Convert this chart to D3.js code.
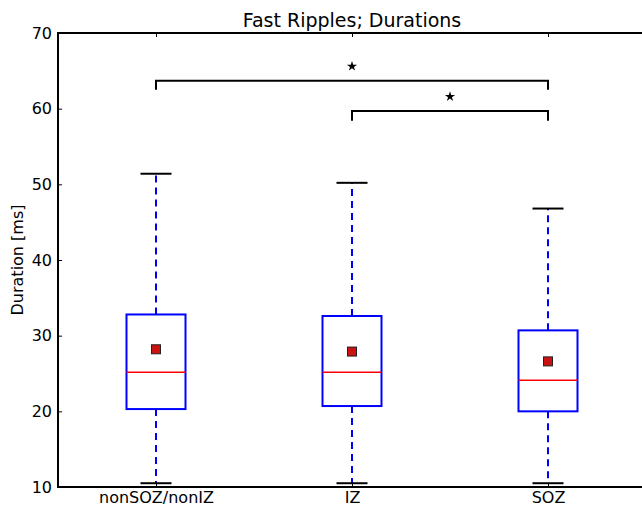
<!DOCTYPE html>
<html>
<head>
<meta charset="utf-8">
<script src="https://cdn.jsdelivr.net/npm/d3@7"></script>
<style>
  html, body { margin: 0; padding: 0; background: #fff; }
  svg text { font-family: "DejaVu Sans", sans-serif; fill: #000; }
</style>
</head>
<body>
<svg id="chart" width="642" height="506"></svg>
<script>
// Box statistics per group (duration in ms)
const categories   = ["nonSOZ/nonIZ", "IZ", "SOZ"];
const whiskerLow   = [10.5, 10.5, 10.5];
const quartile1    = [20.3, 20.7, 20.0];
const medians      = [25.15, 25.15, 24.1];
const quartile3    = [32.8, 32.6, 30.7];
const whiskerHigh  = [51.4, 50.2, 46.8];
const means        = [28.2, 27.9, 26.6];
const yTicks       = [10, 20, 30, 40, 50, 60, 70];

// Significance brackets: group indices, bar level, drop level, star level
const bracketFrom  = [0, 1];
const bracketTo    = [2, 2];
const bracketLevel = [63.7, 59.7];
const bracketDrop  = [62.5, 58.4];
const starLevel    = [65.6, 61.6];

const svg = d3.select("#chart");
const plotL = 58, plotR = 646, plotT = 33, plotB = 487;

const x = d3.scaleLinear().domain([0.5, 3.5]).range([plotL, plotR]);
const y = d3.scaleLinear().domain([10, 70]).range([plotB, plotT]);

const boxHalf = 29.5, capHalf = 15.5;
const tickFont = "16px";

// Ticks (inward, classic style) on all four sides
const gL = svg.append("g").attr("transform", `translate(${plotL},0)`)
  .call(d3.axisLeft(y).tickValues(yTicks).tickSizeInner(-4).tickSizeOuter(0).tickPadding(6));
gL.select(".domain").remove();
gL.selectAll("text").style("font-size", tickFont);
gL.selectAll("line").attr("stroke", "#000").attr("stroke-width", 1);

const gR = svg.append("g").attr("transform", `translate(${plotR},0)`)
  .call(d3.axisRight(y).tickValues(yTicks).tickSizeInner(-4).tickSizeOuter(0).tickFormat(""));
gR.select(".domain").remove();
gR.selectAll("line").attr("stroke", "#000").attr("stroke-width", 1);

const gB = svg.append("g").attr("transform", `translate(0,${plotB})`)
  .call(d3.axisBottom(x).tickValues([1, 2, 3]).tickSizeInner(-4).tickSizeOuter(0)
    .tickPadding(5).tickFormat((d) => categories[d - 1]));
gB.select(".domain").remove();
gB.selectAll("text").style("font-size", tickFont);
gB.selectAll("line").attr("stroke", "#000").attr("stroke-width", 1);

const gT = svg.append("g").attr("transform", `translate(0,${plotT})`)
  .call(d3.axisTop(x).tickValues([1, 2, 3]).tickSizeInner(-4).tickSizeOuter(0).tickFormat(""));
gT.select(".domain").remove();
gT.selectAll("line").attr("stroke", "#000").attr("stroke-width", 1);

// Boxes
const boxes = svg.append("g");
d3.range(categories.length).forEach((i) => {
  const cx = x(i + 1);
  const g = boxes.append("g");
  // whiskers
  g.append("line").attr("x1", cx).attr("x2", cx)
    .attr("y1", y(quartile3[i])).attr("y2", y(whiskerHigh[i]))
    .attr("stroke", "#0000ff").attr("stroke-width", 2).attr("stroke-dasharray", "7,5");
  g.append("line").attr("x1", cx).attr("x2", cx)
    .attr("y1", y(quartile1[i])).attr("y2", y(whiskerLow[i]))
    .attr("stroke", "#0000ff").attr("stroke-width", 2).attr("stroke-dasharray", "7,5");
  // caps
  [whiskerHigh[i], whiskerLow[i]].forEach((v) => {
    g.append("line").attr("x1", cx - capHalf).attr("x2", cx + capHalf)
      .attr("y1", y(v)).attr("y2", y(v))
      .attr("stroke", "#000").attr("stroke-width", 2);
  });
  // box
  g.append("rect").attr("x", cx - boxHalf).attr("width", 2 * boxHalf)
    .attr("y", y(quartile3[i])).attr("height", y(quartile1[i]) - y(quartile3[i]))
    .attr("fill", "none").attr("stroke", "#0000ff").attr("stroke-width", 2);
  // median
  g.append("line").attr("x1", cx - boxHalf).attr("x2", cx + boxHalf)
    .attr("y1", y(medians[i])).attr("y2", y(medians[i]))
    .attr("stroke", "#ff0000").attr("stroke-width", 1.5);
  // mean marker
  g.append("rect").attr("x", cx - 4.5).attr("y", y(means[i]) - 4.5)
    .attr("width", 9).attr("height", 9)
    .attr("fill", "#cc1111").attr("stroke", "#222").attr("stroke-width", 1);
});

// Significance brackets and stars
const sig = svg.append("g");
bracketFrom.forEach((f, k) => {
  const x1 = x(f + 1), x2 = x(bracketTo[k] + 1);
  sig.append("path")
    .attr("d", `M${x1},${y(bracketDrop[k])}V${y(bracketLevel[k])}H${x2}V${y(bracketDrop[k])}`)
    .attr("fill", "none").attr("stroke", "#000").attr("stroke-width", 2);
  sig.append("path")
    .attr("d", d3.symbol().type(d3.symbolStar).size(32)())
    .attr("transform", `translate(${(x1 + x2) / 2},${y(starLevel[k])})`)
    .attr("fill", "#000");
});

// Spines
svg.append("path")
  .attr("d", `M${plotR},${plotT}H${plotL}V${plotB}H${plotR}`)
  .attr("fill", "none").attr("stroke", "#000").attr("stroke-width", 2);

// Title and axis label
svg.append("text").attr("x", (plotL + plotR) / 2).attr("y", 27)
  .attr("text-anchor", "middle").style("font-size", "19px")
  .text("Fast Ripples; Durations");
svg.append("text")
  .attr("transform", `translate(23,${(plotT + plotB) / 2}) rotate(-90)`)
  .attr("text-anchor", "middle").style("font-size", tickFont)
  .text("Duration [ms]");
</script>
</body>
</html>
